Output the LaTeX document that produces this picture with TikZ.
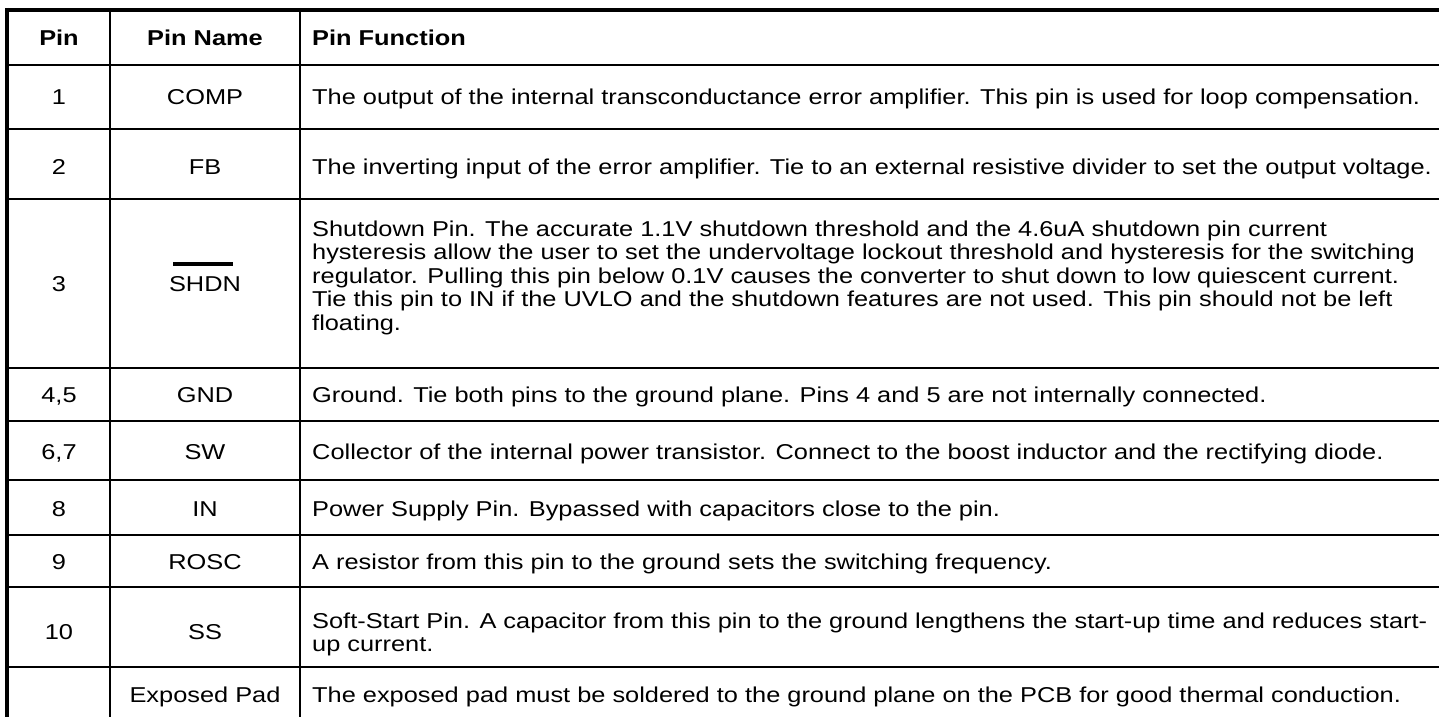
\documentclass[tikz,border=0pt]{standalone}
\usepackage{fontspec}
\setmainfont[FakeStretch=1.18]{Liberation Sans}
\newcommand{\drawthick}{\draw[line width=3.5pt]}
\newcommand{\drawthin}{\draw[line width=2.2pt]}
\newcommand{\cellfont}{\fontsize{21.5}{23.5}\selectfont}
\tikzset{
  pincell/.style={anchor=base, inner sep=0pt, font=\cellfont},
  headcell/.style={anchor=base, inner sep=0pt, font=\cellfont\bfseries},
  fncell/.style={anchor=base west, inner sep=0pt, font=\cellfont}
}
% one row of the table: #1 name, #2 baseline, #3 pin, #4 pin name, #5 function
\newcommand{\pinrow}[5]{
  \node[pincell] (#1pin) at (59,#2) {#3};
  \node[pincell] (#1name) at (205,#2) {#4};
  \node[fncell] (#1fn) at (312,#2) {#5};
}

\begin{document}
\begin{tikzpicture}[x=1pt,y=-1pt]
\useasboundingbox[fill=white] (0,0) rectangle (1439,717);
\drawthick (5,10)--(1439,10);
\draw[line width=4pt] (7,8)--(7,717);
\drawthin (110,10)--(110,717);
\drawthin (300,10)--(300,717);
\foreach \y in {65,129,199,368,421,480,535,587,667}{
  \drawthin (7,\y)--(1439,\y);
}
\node[headcell] (hpin) at (59,45.5) {Pin};
\node[headcell] (hname) at (205,45.5) {Pin Name};
\node[headcell,anchor=base west] (hfn) at (312,45.5) {Pin Function};
\pinrow{comp}{104.5}{1}{COMP}{The output of the internal transconductance error amplifier. This pin is used for loop compensation.}
\pinrow{fb}{174}{2}{FB}{The inverting input of the error amplifier. Tie to an external resistive divider to set the output voltage.}
\node[pincell] (shdnpin) at (59,291) {3};
\node[pincell] (shdnname) at (205,291) {\rlap{\hspace{4pt}\rule[25pt]{60pt}{4pt}}SHDN};
\node[fncell] (shdnfn1) at (312,236) {Shutdown Pin. The accurate 1.1V shutdown threshold and the 4.6uA shutdown pin current};
\node[fncell] (shdnfn2) at (312,259.5) {hysteresis allow the user to set the undervoltage lockout threshold and hysteresis for the switching};
\node[fncell] (shdnfn3) at (312,283) {regulator. Pulling this pin below 0.1V causes the converter to shut down to low quiescent current.};
\node[fncell] (shdnfn4) at (312,306.5) {Tie this pin to IN if the UVLO and the shutdown features are not used. This pin should not be left};
\node[fncell] (shdnfn5) at (312,330) {floating.};
\pinrow{gnd}{402.5}{4,5}{GND}{Ground. Tie both pins to the ground plane. Pins 4 and 5 are not internally connected.}
\pinrow{sw}{459}{6,7}{SW}{Collector of the internal power transistor. Connect to the boost inductor and the rectifying diode.}
\pinrow{in}{516}{8}{IN}{Power Supply Pin. Bypassed with capacitors close to the pin.}
\pinrow{rosc}{569.5}{9}{ROSC}{A resistor from this pin to the ground sets the switching frequency.}
\node[pincell] (sspin) at (59,639.5) {10};
\node[pincell] (ssname) at (205,639.5) {SS};
\node[fncell] (ssfn1) at (312,628) {Soft-Start Pin. A capacitor from this pin to the ground lengthens the start-up time and reduces start-};
\node[fncell] (ssfn2) at (312,651.5) {up current.};
\node[pincell] (padname) at (205,702.5) {Exposed Pad};
\node[fncell] (padfn) at (312,702.5) {The exposed pad must be soldered to the ground plane on the PCB for good thermal conduction.};
\end{tikzpicture}
\end{document}
